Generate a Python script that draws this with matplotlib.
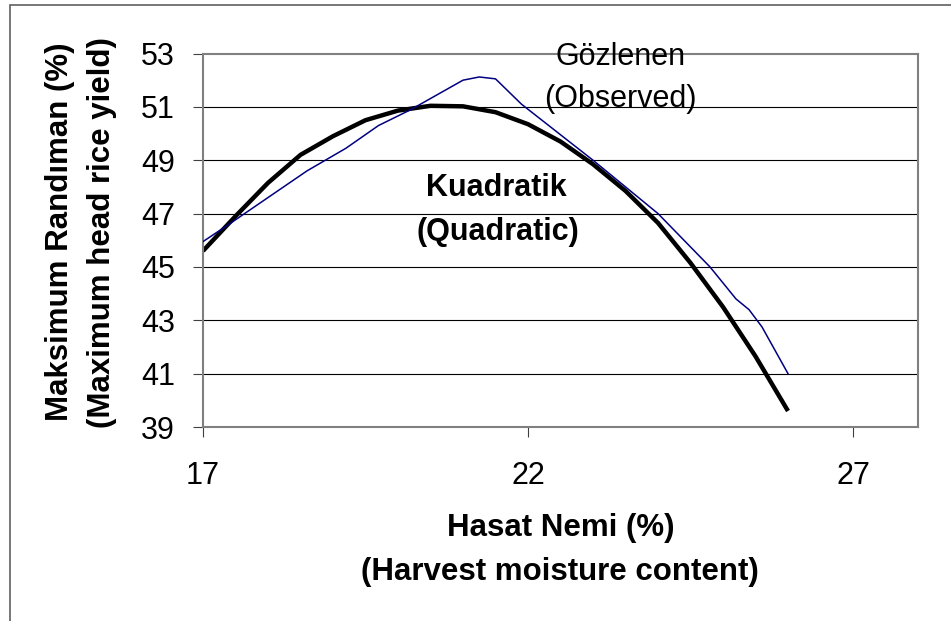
import matplotlib
matplotlib.use("Agg")
import matplotlib.pyplot as plt
from matplotlib.patches import Rectangle

plt.rcParams["font.family"] = ["Liberation Sans", "DejaVu Sans"]

# quadratic fit
quad_x = [17.0, 17.5, 18.0, 18.5, 19.0, 19.5, 20.0, 20.5, 21.0, 21.5,
          22.0, 22.5, 23.0, 23.5, 24.0, 24.5, 25.0, 25.5, 26.0]
quad_y = [45.6, 46.9, 48.15, 49.2, 49.9, 50.5, 50.86, 51.04, 51.02, 50.8,
          50.35, 49.7, 48.85, 47.85, 46.65, 45.15, 43.5, 41.65, 39.6]

# observed values
obs_x = [17.0, 17.4, 18.0, 18.6, 19.2, 19.7, 20.2, 21.0, 21.25, 21.5,
         21.9, 23.0, 24.0, 24.8, 25.2, 25.4, 25.6, 26.0]
obs_y = [45.95, 46.6, 47.6, 48.6, 49.45, 50.3, 50.9, 52.0, 52.12, 52.05,
         51.1, 49.0, 47.0, 45.0, 43.8, 43.4, 42.75, 41.0]

x_ticks = [17, 22, 27]
y_ticks = [39, 41, 43, 45, 47, 49, 51, 53]

W, H = 951, 621
fig = plt.figure(figsize=(W / 100, H / 100), dpi=100)
ax = fig.add_axes([203 / W, 1 - 427 / H, 715 / W, 373.5 / H])

for y in y_ticks[1:-1]:
    ax.axhline(y, color="black", lw=0.8, zorder=1)

ax.plot(obs_x, obs_y, color="#000080", lw=1.1, zorder=3)
ax.plot(quad_x, quad_y, color="black", lw=3.2, zorder=2, solid_capstyle="butt")

ax.set_xlim(17, 28)
ax.set_ylim(39, 53)
ax.set_xticks(x_ticks)
ax.set_yticks(y_ticks)
ax.tick_params(axis="both", direction="out", length=7.2, width=0.8,
               color="#404040", labelsize=22)
ax.tick_params(axis="y", pad=13)
ax.tick_params(axis="x", pad=17)

for side in ["left", "bottom", "top", "right"]:
    ax.spines[side].set_color("#808080")
    ax.spines[side].set_linewidth(1.5)

fs = 22
ax.text(23.42, 52.87, "Gözlenen", ha="center", va="center", fontsize=fs,
        clip_on=False, zorder=4)
ax.text(23.42, 51.3, "(Observed)", ha="center", va="center", fontsize=fs,
        zorder=4)
ax.text(21.52, 47.96, "Kuadratik", ha="center", va="center", fontsize=fs,
        fontweight="bold", zorder=4)
ax.text(21.53, 46.31, "(Quadratic)", ha="center", va="center", fontsize=fs,
        fontweight="bold", zorder=4)

# axis titles
fig.text(561 / W, 1 - 528 / H, "Hasat Nemi (%)", ha="center", va="center",
         fontsize=22.5, fontweight="bold")
fig.text(560 / W, 1 - 572 / H, "(Harvest moisture content)", ha="center",
         va="center", fontsize=22.5, fontweight="bold")
fig.text(60 / W, 1 - 232 / H, "Maksimum Randıman (%)", ha="center",
         va="center", rotation=90, fontsize=22.5, fontweight="bold")
fig.text(102 / W, 1 - 233 / H, "(Maximum head rice yield)", ha="center",
         va="center", rotation=90, fontsize=22.5, fontweight="bold")

# outer frame (cut off at right and bottom)
fig.patches.append(Rectangle((10 / W, -0.1), 1.2, 1 - 5 / H + 0.1,
                             transform=fig.transFigure, fill=False,
                             edgecolor="#606060", lw=1.2))

fig.savefig("out.png", dpi=100)
